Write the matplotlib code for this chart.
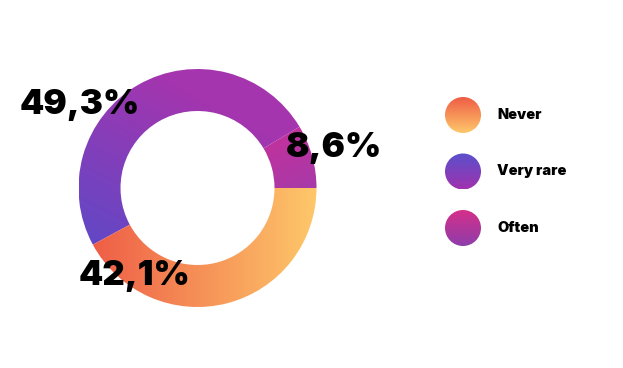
import matplotlib.pyplot as plt
import numpy as np
from matplotlib.colors import to_rgb
from matplotlib.patches import Circle
from matplotlib import font_manager as fm

categories = ["Never", "Very rare", "Often"]
shares = [42.1, 49.3, 8.6]

# gradient colours (start, end) for ring slices and legend dots
ring_colors = [("#ee5a45", "#fec86a"), ("#6048c6", "#a535ae"), ("#c4309b", "#a73aa9")]
dot_colors = [("#ef5c45", "#fec86b"), ("#5a50cc", "#a032ae"), ("#d5308a", "#8e3dab")]
# gradient direction in ring data coords (from -> to)
ring_dirs = [((-0.95, -0.3), (1.0, -0.3)), ((-0.85, -0.55), (-0.1, 0.85)), ((0.8, 0.55), (1.0, 0.0))]
label_pos = [(-0.53, -0.74), (-0.99, 0.70), (1.15, 0.34)]

W, H = 623, 368
fig = plt.figure(figsize=(W / 100, H / 100), dpi=100)

big = fm.FontProperties(family="Inter", weight=900, size=25)
small = fm.FontProperties(family="Inter", weight=900, size=10.5)


def gradient(c0, c1, xs, ys, p0, p1):
    X, Y = np.meshgrid(xs, ys)
    d = np.array(p1) - np.array(p0)
    t = ((X - p0[0]) * d[0] + (Y - p0[1]) * d[1]) / (d @ d)
    t = np.clip(t, 0, 1)[..., None]
    return np.array(to_rgb(c0)) * (1 - t) + np.array(to_rgb(c1)) * t


# ring
cx, cy, R = 197.5, 180, 119
size = 320
ax = fig.add_axes([(cx - size / 2) / W, (cy - size / 2) / H, size / W, size / H])
order = [2, 1, 0]
wedges, _ = ax.pie([shares[i] for i in order], startangle=0, radius=1,
                   wedgeprops=dict(width=42 / 119, linewidth=0, facecolor="none"))
lim = size / 2 / R
ax.set_xlim(-lim, lim)
ax.set_ylim(-lim, lim)
ax.axis("off")

xs = np.linspace(-1, 1, 500)
for w, i in zip(wedges, order):
    img = gradient(*ring_colors[i], xs, xs, *ring_dirs[i])
    im = ax.imshow(img, extent=(-1, 1, -1, 1), origin="lower", interpolation="bilinear")
    im.set_clip_path(w)

for i in range(3):
    txt = f"{shares[i]:.1f}".replace(".", ",") + "%"
    ax.text(*label_pos[i], txt, ha="center", va="center", fontproperties=big, clip_on=False)

# legend
lax = fig.add_axes([0, 0, 1, 1])
lax.set_xlim(0, W)
lax.set_ylim(H, 0)
lax.axis("off")
r = 18
for i, name in enumerate(categories):
    x, y = 463, 115 + 56.5 * i
    circ = Circle((x, y), r, facecolor="none", edgecolor="none")
    lax.add_patch(circ)
    ys = np.linspace(y - r, y + r, 100)
    xx = np.linspace(x - r, x + r, 100)
    img = gradient(*dot_colors[i], xx, ys, (x, y - r), (x, y + r))
    im = lax.imshow(img, extent=(x - r, x + r, y + r, y - r), origin="upper",
                    interpolation="bilinear", aspect="auto")
    im.set_clip_path(circ)
    lax.text(497, y, name, va="center", ha="left", fontproperties=small)
lax.set_xlim(0, W)
lax.set_ylim(H, 0)

fig.savefig("out.png", dpi=100)
